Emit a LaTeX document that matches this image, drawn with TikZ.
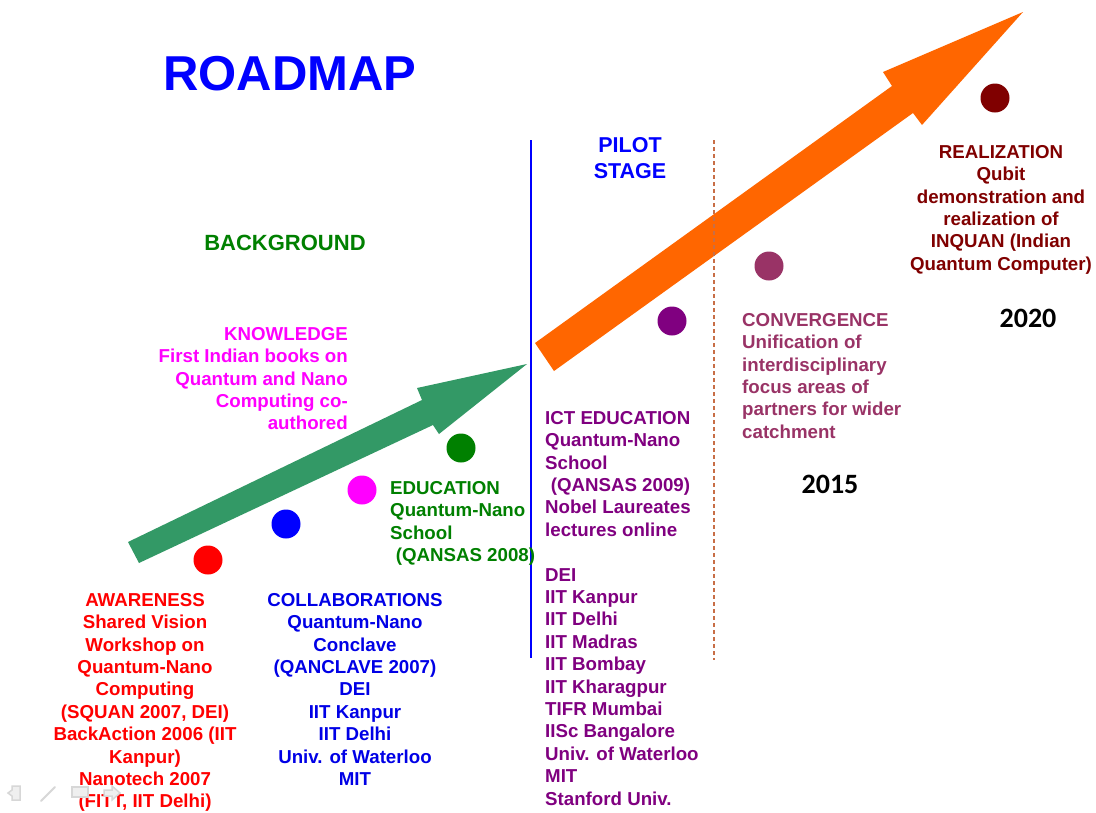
\documentclass[tikz,border=0pt]{standalone}
\usepackage{fontspec}
\setmainfont{Liberation Sans}
\newfontfamily\yearfont{Carlito}
\definecolor{cRed}{RGB}{255,0,0}
\definecolor{cBlue}{RGB}{0,0,255}
\definecolor{cColl}{RGB}{0,0,230}
\definecolor{cMag}{RGB}{255,0,255}
\definecolor{cGreen}{RGB}{0,128,0}
\definecolor{cPurple}{RGB}{128,0,128}
\definecolor{cConv}{RGB}{153,51,102}
\definecolor{cReal}{RGB}{128,0,0}
\definecolor{cArrowG}{RGB}{51,153,102}
\definecolor{cArrowO}{RGB}{255,102,0}
\definecolor{cDash}{RGB}{200,110,70}
\definecolor{cIcon}{RGB}{215,215,215}
\tikzset{
  lbl/.style={inner sep=0pt, font=\fontsize{18.7}{22.4}\selectfont\bfseries},
  dot/.style={circle, inner sep=0pt, minimum size=29pt},
  year/.style={inner sep=0pt, font=\fontsize{28}{30}\selectfont\yearfont\bfseries},
  icon/.style={draw=cIcon, fill=cIcon!40, line width=1.5pt}
}
\begin{document}
\begin{tikzpicture}[x=1pt,y=-1pt]
\useasboundingbox[fill=white] (0,0) rectangle (1096,812);

% arrows
\fill[cArrowG] (128,542) -- (422,400) -- (417,388) -- (527,364) -- (439,434) -- (433,425) -- (139,563) -- cycle;
\fill[cArrowO] (535,343) -- (892,86) -- (883,72) -- (1023,12) -- (922,125) -- (913,113) -- (554,371) -- cycle;

% separators
\coordinate (bt) at (531,140);
\coordinate (bb) at (531,658);
\draw[cBlue, line width=1.3pt] (bt) -- (bb);
\coordinate (dt) at (714,140);
\coordinate (db) at (714,660);
\draw[cDash, line width=1.1pt, dash pattern=on 4pt off 3pt] (dt) -- (db);

% title
\node[inner sep=0pt, anchor=base west, text=cBlue, font=\fontsize{49}{55}\selectfont\bfseries] (title) at (163,90) {ROADMAP};
\node[inner sep=0pt, text=cGreen, font=\fontsize{22}{26}\selectfont\bfseries] (bg) at (285,243) {BACKGROUND};
\node[inner sep=0pt, text=cBlue, align=center, font=\fontsize{21.5}{26}\selectfont\bfseries, anchor=north] (pilot) at (630,137) {PILOT\\STAGE};

% dots
\node[dot, fill=cRed] (d1) at (208,560) {};
\node[dot, fill=cBlue] (d2) at (286,524) {};
\node[dot, fill=cMag] (d3) at (362,490) {};
\node[dot, fill=cGreen] (d4) at (461,448) {};
\node[dot, fill=cPurple] (d5) at (672,321) {};
\node[dot, fill=cConv] (d6) at (769,266) {};
\node[dot, fill=cReal] (d7) at (995,98) {};

% text blocks
\node[lbl, text=cRed, align=center, anchor=north] (aware) at (145,593) {AWARENESS\\Shared Vision\\Workshop on\\Quantum-Nano\\Computing\\(SQUAN 2007, DEI)\\BackAction 2006 (IIT\\Kanpur)\\Nanotech 2007\\(FITT, IIT Delhi)};

\node[lbl, text=cColl, align=center, anchor=north] (coll) at (355,593) {COLLABORATIONS\\Quantum-Nano\\Conclave\\(QANCLAVE 2007)\\DEI\\IIT Kanpur\\IIT Delhi\\Univ. of Waterloo\\MIT};

\node[lbl, text=cMag, align=right, anchor=north east] (know) at (348,327) {KNOWLEDGE\\First Indian books on\\Quantum and Nano\\Computing co-\\authored};

\node[lbl, text=cGreen, align=left, anchor=north west] (edu) at (390,481) {EDUCATION\\Quantum-Nano\\School\\\hspace{0.3em}(QANSAS 2008)};

\node[lbl, text=cPurple, align=left, anchor=north west] (ict) at (545,411) {ICT EDUCATION\\Quantum-Nano\\School\\\hspace{0.3em}(QANSAS 2009)\\Nobel Laureates\\lectures online\\[22.4pt]DEI\\IIT Kanpur\\IIT Delhi\\IIT Madras\\IIT Bombay\\IIT Kharagpur\\TIFR Mumbai\\IISc Bangalore\\Univ. of Waterloo\\MIT\\Stanford Univ.};

\node[lbl, text=cConv, align=left, anchor=north west] (conv) at (742,313) {CONVERGENCE\\Unification of\\interdisciplinary\\focus areas of\\partners for wider\\catchment};

\node[lbl, text=cReal, align=center, anchor=north] (real) at (1001,145) {REALIZATION\\Qubit\\demonstration and\\realization of\\INQUAN (Indian\\Quantum Computer)};

\node[year] (y15) at (830,484) {2015};
\node[year] (y20) at (1028,318) {2020};

% slideshow controls (faint)
\draw[icon] (12,786) -- (20,786) -- (20,800) -- (12,800) -- (12,796) -- (8,793) -- (12,790) -- cycle;
\draw[cIcon, line width=2pt, line cap=round] (41,801) -- (55,787);
\draw[icon] (72,787) rectangle (88,797);
\draw[icon] (104,790) -- (112,790) -- (112,786) -- (120,793) -- (112,800) -- (112,796) -- (104,796) -- cycle;
\end{tikzpicture}
\end{document}
